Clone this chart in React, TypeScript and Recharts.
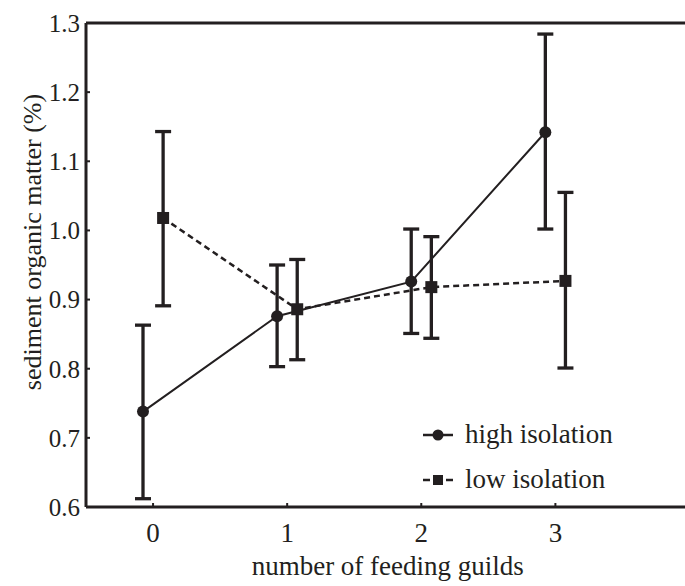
import React from "react";
import {
  LineChart,
  Line,
  XAxis,
  YAxis,
  ErrorBar,
  ReferenceLine,
  Legend,
} from "recharts";

// ---- data ----
const categories = [0, 1, 2, 3];
const yTicks = [0.6, 0.7, 0.8, 0.9, 1.0, 1.1, 1.2, 1.3];

const highMean = [0.738, 0.876, 0.926, 1.142];
const highUpper = [0.863, 0.95, 1.002, 1.284];
const highLower = [0.612, 0.803, 0.851, 1.002];

const lowMean = [1.018, 0.886, 0.918, 0.927];
const lowUpper = [1.143, 0.958, 0.991, 1.055];
const lowLower = [0.891, 0.813, 0.844, 0.801];

const seriesNames = ["high isolation", "low isolation"];

// horizontal dodge between the two series (in category units)
const DODGE = 0.075;

const build = (mean: number[], upper: number[], lower: number[], shift: number) =>
  categories.map((c, i) => ({
    x: c + shift,
    y: mean[i],
    err: [mean[i] - lower[i], upper[i] - mean[i]],
  }));

const highData = build(highMean, highUpper, highLower, -DODGE);
const lowData = build(lowMean, lowUpper, lowLower, DODGE);

const INK = "#231f20";
const FONT = "Liberation Serif";

const Y_MARGIN = 6;
const X_MARGIN = 16;

const YTick = (props: any) => {
  const { x, y, payload } = props;
  const ax = x + Y_MARGIN;
  return (
    <g>
      <line x1={ax} x2={ax + 4} y1={y} y2={y} stroke={INK} strokeWidth={2} />
      <text
        x={x}
        y={y}
        dy="0.355em"
        textAnchor="end"
        style={{ fontFamily: FONT }}
        fontSize={25}
        fill={INK}
      >
        {Number(payload.value).toFixed(1)}
      </text>
    </g>
  );
};

const XTick = (props: any) => {
  const { x, y, payload } = props;
  const ay = y - X_MARGIN;
  return (
    <g>
      <line x1={x} x2={x} y1={ay} y2={ay - 4} stroke={INK} strokeWidth={2} />
      <text
        x={x}
        y={y}
        dy="0.71em"
        textAnchor="middle"
        style={{ fontFamily: FONT }}
        fontSize={27}
        fill={INK}
      >
        {payload.value}
      </text>
    </g>
  );
};

const CircleDot = (props: any) => {
  const { cx, cy } = props;
  if (cx == null || cy == null) return null;
  return <circle cx={cx} cy={cy} r={6} fill={INK} />;
};

const SquareDot = (props: any) => {
  const { cx, cy } = props;
  if (cx == null || cy == null) return null;
  return <rect x={cx - 6} y={cy - 6} width={12} height={12} fill={INK} />;
};

const renderLegend = (props: any) => {
  const { payload } = props;
  return (
    <div style={{ fontFamily: FONT, fontSize: 27, color: INK, lineHeight: "45px" }}>
      {(payload || []).map((entry: any, i: number) => (
        <div key={i} style={{ display: "flex", alignItems: "center", height: 45 }}>
          <svg width={30} height={20} style={{ display: "block" }}>
            {i === 0 ? (
              <>
                <line x1={0} x2={30} y1={10} y2={10} stroke={INK} strokeWidth={2.5} />
                <circle cx={15} cy={10} r={5.5} fill={INK} />
              </>
            ) : (
              <>
                <line x1={0} x2={7} y1={10} y2={10} stroke={INK} strokeWidth={2.5} />
                <line x1={23} x2={30} y1={10} y2={10} stroke={INK} strokeWidth={2.5} />
                <rect x={10} y={5} width={10} height={10} fill={INK} />
              </>
            )}
          </svg>
          <span style={{ marginLeft: 12, whiteSpace: "nowrap" }}>{entry.value}</span>
        </div>
      ))}
    </div>
  );
};

const YLabel = () => (
  <text
    x={41}
    y={242}
    transform="rotate(-90 41 242)"
    textAnchor="middle"
    style={{ fontFamily: FONT }}
    fontSize={26}
    fill={INK}
  >
    sediment organic matter (%)
  </text>
);

const XLabel = (props: any) => {
  const { viewBox } = props;
  const cx = viewBox.x + viewBox.width / 2;
  return (
    <text
      x={cx}
      y={575}
      textAnchor="middle"
      style={{ fontFamily: FONT }}
      fontSize={27}
      fill={INK}
    >
      number of feeding guilds
    </text>
  );
};

export default function App() {
  return (
    <div
      style={{
        position: "absolute",
        left: 0,
        top: 0,
        width: 685,
        height: 586,
        overflow: "hidden",
        background: "#fff",
        fontFamily: FONT,
      }}
    >
      <LineChart
        width={700}
        height={586}
        margin={{ top: 23, right: 10.5, bottom: 0, left: 0 }}
      >
        <XAxis
          type="number"
          dataKey="x"
          domain={[-0.5, 3.5]}
          ticks={categories}
          allowDecimals={false}
          height={79}
          axisLine={{ stroke: INK, strokeWidth: 3 }}
          tickLine={false}
          tickSize={0}
          tickMargin={X_MARGIN}
          tick={<XTick />}
          interval={0}
          label={<XLabel />}
        />
        <YAxis
          type="number"
          domain={[0.6, 1.3]}
          ticks={yTicks}
          width={86}
          axisLine={{ stroke: INK, strokeWidth: 3 }}
          tickLine={false}
          tickSize={0}
          tickMargin={Y_MARGIN}
          tick={<YTick />}
          interval={0}
          label={<YLabel />}
        />
        <ReferenceLine y={1.3} stroke={INK} strokeWidth={3} />
        <Legend
          layout="vertical"
          align="center"
          verticalAlign="middle"
          content={renderLegend}
          wrapperStyle={{ left: 423, top: 412, width: "auto" }}
        />
        <Line
          name={seriesNames[0]}
          data={highData}
          dataKey="y"
          stroke={INK}
          strokeWidth={2}
          dot={<CircleDot />}
          activeDot={false}
          isAnimationActive={false}
        >
          <ErrorBar dataKey="err" direction="y" width={8} stroke={INK} strokeWidth={3.3} />
        </Line>
        <Line
          name={seriesNames[1]}
          data={lowData}
          dataKey="y"
          stroke={INK}
          strokeWidth={2.5}
          strokeDasharray="6 4"
          dot={<SquareDot />}
          activeDot={false}
          isAnimationActive={false}
        >
          <ErrorBar dataKey="err" direction="y" width={8} stroke={INK} strokeWidth={3.3} />
        </Line>
      </LineChart>
    </div>
  );
}
